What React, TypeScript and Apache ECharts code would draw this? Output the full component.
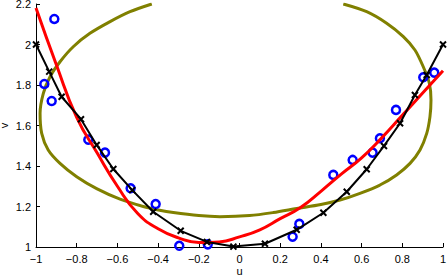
import React, { useEffect, useRef } from "react";
import * as echarts from "echarts";

const xTicks = [-1, -0.8, -0.6, -0.4, -0.2, 0, 0.2, 0.4, 0.6, 0.8, 1];
const yTicks = [1, 1.2, 1.4, 1.6, 1.8, 2, 2.2];

const circleU = [-0.959, -0.923, -0.91, -0.743, -0.661, -0.535, -0.412, -0.296, -0.156, 0.261, 0.294, 0.461, 0.556, 0.654, 0.69, 0.769, 0.903, 0.957];
const circleV = [1.805, 1.721, 2.126, 1.53, 1.466, 1.29, 1.212, 1.006, 1.013, 1.051, 1.114, 1.356, 1.43, 1.466, 1.537, 1.677, 1.838, 1.861];

const blackU = [-1, -0.935, -0.874, -0.779, -0.702, -0.62, -0.527, -0.424, -0.289, -0.16, -0.03, 0.125, 0.281, 0.412, 0.527, 0.625, 0.71, 0.789, 0.862, 0.92, 1];
const blackV = [2.0, 1.866, 1.742, 1.631, 1.504, 1.385, 1.281, 1.174, 1.08, 1.025, 1.002, 1.016, 1.085, 1.169, 1.273, 1.384, 1.499, 1.611, 1.751, 1.849, 2.0];

const redU = [-1, -0.9, -0.8, -0.7, -0.6, -0.5, -0.4, -0.3, -0.2, -0.1, 0, 0.1, 0.2, 0.3, 0.4, 0.5, 0.6, 0.7, 0.8, 0.9, 1];
const redV = [2.18, 1.9, 1.64, 1.465, 1.3, 1.165, 1.09, 1.045, 1.022, 1.025, 1.05, 1.085, 1.14, 1.195, 1.275, 1.36, 1.44, 1.54, 1.65, 1.76, 1.87];

const ellU = [0.51, 0.625, 0.723, 0.805, 0.862, 0.903, 0.933, 0.941, 0.936, 0.92, 0.887, 0.838, 0.772, 0.69, 0.592, 0.494, 0.4, 0.281, 0.166, 0.05, -0.096, -0.2, -0.325, -0.399, -0.473, -0.587, -0.702, -0.8, -0.882, -0.94, -0.972, -0.98, -0.964, -0.931, -0.882, -0.817, -0.735, -0.636, -0.538, -0.431];
const ellV = [2.2, 2.162, 2.105, 2.039, 1.973, 1.89, 1.808, 1.726, 1.644, 1.561, 1.479, 1.413, 1.356, 1.306, 1.265, 1.232, 1.21, 1.19, 1.17, 1.155, 1.15, 1.155, 1.17, 1.183, 1.2, 1.236, 1.288, 1.347, 1.413, 1.479, 1.561, 1.66, 1.759, 1.841, 1.915, 1.989, 2.055, 2.113, 2.162, 2.2];

const zip = (a: number[], b: number[]) => a.map((v, i) => [v, b[i]]);
const fmt = (v: number) => String(Math.round(v * 10) / 10).replace("-", "\u2212");

export default function App() {
  const ref = useRef<HTMLDivElement>(null);
  useEffect(() => {
    const chart = echarts.init(ref.current!, null, { renderer: "svg" });
    const font = { fontFamily: "Liberation Sans, Arial, sans-serif", fontSize: 11, color: "#000" };
    chart.setOption({
      animation: false,
      grid: { left: 36, right: 5, top: 4, bottom: 31, containLabel: false, outerBoundsMode: "none" },
      xAxis: {
        type: "value",
        min: xTicks[0],
        max: xTicks[xTicks.length - 1],
        interval: 0.2,
        name: "u",
        nameLocation: "middle",
        nameGap: 18,
        nameMoveOverlap: false,
        nameTextStyle: font,
        axisLine: { onZero: false, lineStyle: { color: "#000", width: 1 } },
        axisTick: { inside: true, length: 4, lineStyle: { color: "#000" } },
        splitLine: { show: false },
        axisLabel: { ...font, margin: 6, formatter: fmt },
      },
      yAxis: {
        type: "value",
        min: yTicks[0],
        max: yTicks[yTicks.length - 1],
        interval: 0.2,
        name: "v",
        nameLocation: "middle",
        nameGap: 27,
        nameMoveOverlap: false,
        nameTextStyle: font,
        axisLine: { show: true, onZero: false, lineStyle: { color: "#000", width: 1 } },
        axisTick: { show: true, inside: true, length: 4, lineStyle: { color: "#000" } },
        splitLine: { show: false },
        axisLabel: { ...font, margin: 5, formatter: fmt },
      },
      series: [
        {
          type: "line",
          data: zip(ellU, ellV),
          smooth: 0.3,
          symbol: "none",
          lineStyle: { color: "#808000", width: 3 },
          z: 2,
        },
        {
          type: "scatter",
          data: zip(circleU, circleV),
          symbol: "circle",
          symbolSize: 8,
          clip: false,
          itemStyle: { color: "rgba(255,255,255,0)", borderColor: "#0000ff", borderWidth: 2.5, opacity: 1 },
          z: 3,
        },
        {
          type: "line",
          data: zip(redU, redV),
          smooth: 0.5,
          symbol: "none",
          lineStyle: { color: "#ff0000", width: 3 },
          z: 4,
        },
        {
          type: "line",
          data: zip(blackU, blackV),
          symbol: "path://M0,0L10,10M10,0L0,10",
          symbolSize: 6,
          showAllSymbol: true,
          itemStyle: { color: "#000", borderColor: "#000", borderWidth: 2 },
          lineStyle: { color: "#000", width: 2 },
          z: 5,
        },
      ],
    });
    return () => chart.dispose();
  }, []);
  return <div ref={ref} style={{ position: "absolute", left: 0, top: 0, width: 448, height: 278 }} />;
}
